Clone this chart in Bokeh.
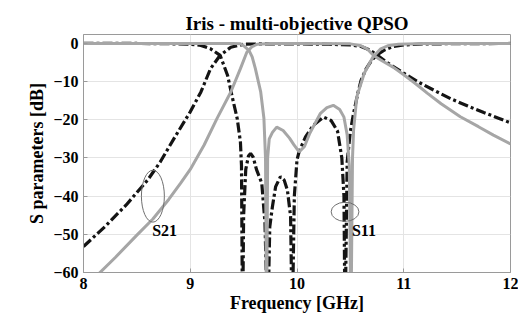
from bokeh.plotting import figure
from bokeh.models import Range1d, FixedTicker
from bokeh.core.properties import value
from bokeh.embed import file_html
from bokeh.resources import INLINE

# ---- data ----
# design A (black dash-dot)
a_s21_f = [8.00, 8.20, 8.40, 8.60, 8.72, 8.85, 9.00, 9.10, 9.19, 9.28, 9.38, 9.50, 9.70,
           10.00, 10.30, 10.50, 10.60, 10.68, 10.75, 10.86, 11.00, 11.15, 11.30, 11.45,
           11.60, 11.75, 11.90, 12.00]
a_s21_db = [-53.2, -48.0, -42.3, -35.8, -31.0, -24.8, -17.9, -12.7, -6.6, -3.1, -1.0, -0.2, -0.1,
            -0.1, -0.2, -0.4, -0.8, -1.7, -3.0, -5.3, -7.8, -10.3, -12.5, -14.6,
            -16.4, -18.1, -19.7, -20.8]

a_s11_f = [8.00, 8.50, 8.90, 9.00, 9.10, 9.19, 9.28, 9.35, 9.39, 9.44, 9.47, 9.48, 9.49,
           9.50, 9.52, 9.545, 9.565, 9.59, 9.62, 9.67, 9.70, 9.725,
           9.745, 9.77, 9.80, 9.845, 9.88, 9.91, 9.94, 9.955,
           9.975, 10.00, 10.02, 10.08, 10.15, 10.25, 10.32, 10.38, 10.42, 10.44, 10.45,
           10.47, 10.50, 10.53, 10.57, 10.60, 10.65, 10.70, 10.75, 10.82, 10.90, 11.00,
           11.20, 12.00]
a_s11_db = [0.0, 0.0, -0.1, -0.2, -0.5, -1.4, -3.1, -8.4, -13.6, -19.7, -25.8, -32.0, -75.0,
            -45.0, -33.0, -29.5, -28.8, -29.8, -33.0, -36.6, -47.0, -75.0,
            -48.0, -42.7, -37.5, -34.9, -35.8, -38.4, -45.3, -75.0,
            -40.0, -30.5, -28.3, -24.5, -21.5, -19.3, -20.2, -23.0, -30.0, -40.0, -75.0,
            -31.0, -23.0, -18.3, -13.0, -9.7, -6.5, -4.4, -3.0, -1.7, -0.8, -0.4,
            -0.1, 0.0]

# design B (grey solid)
b_s21_f = [8.10, 8.30, 8.50, 8.65, 8.80, 8.91, 9.00, 9.13, 9.25, 9.38, 9.47, 9.53, 9.58,
           9.63, 9.75, 10.00, 10.50, 10.60, 10.66, 10.72, 10.80, 10.90, 11.00, 11.10,
           11.22, 11.35, 11.53, 11.70, 11.84, 12.00]
b_s21_db = [-61.5, -56.0, -50.2, -46.0, -40.8, -36.6, -33.0, -26.6, -19.7, -12.7, -6.6, -2.3, -0.8,
            -0.2, 0.0, 0.0, -0.1, -0.6, -1.5, -3.2, -4.6, -6.2, -8.2, -10.3,
            -13.0, -15.8, -19.2, -21.8, -24.0, -26.3]

b_s11_f = [8.00, 9.00, 9.40, 9.47, 9.51, 9.55, 9.58, 9.61, 9.66, 9.69, 9.705, 9.715,
           9.725, 9.74, 9.77, 9.81, 9.87, 9.93, 9.97, 10.02, 10.07, 10.12, 10.22, 10.28,
           10.34, 10.40, 10.44, 10.47, 10.49, 10.505, 10.52, 10.53, 10.56, 10.63, 10.71,
           10.78, 10.85, 10.95, 11.20, 12.00]
b_s11_db = [0.0, 0.0, 0.0, -0.1, -0.8, -1.8, -3.5, -6.6, -12.7, -19.6, -30.0, -75.0,
            -30.0, -25.0, -23.3, -21.9, -22.8, -24.8, -26.5, -28.4, -27.0, -23.5, -18.3, -16.8,
            -16.2, -17.3, -19.3, -24.0, -32.0, -75.0, -30.0, -22.7, -14.0, -7.8, -3.6,
            -1.5, -0.6, -0.2, 0.0, 0.0]

x_ticks = [8, 9, 10, 11, 12]
y_ticks = [-60, -50, -40, -30, -20, -10, 0]

FONT = "Liberation Serif"
GREY = "#a6a6a6"
DARK = "#141414"
AXC = "#9a9a9a"

p = figure(width=518, height=315, output_backend="svg", toolbar_location=None,
           x_range=Range1d(8, 12), y_range=Range1d(-60, 2.35),
           min_border_left=83, min_border_right=8, min_border_top=34, min_border_bottom=42,
           title="Iris - multi-objective QPSO")
p.background_fill_color = "white"
p.border_fill_color = "white"
p.outline_line_color = AXC
p.outline_line_width = 1

p.title.align = "center"
p.title.text_font = FONT
p.title.text_font_style = "bold"
p.title.text_font_size = "19px"
p.title.text_color = "black"
p.title.standoff = 2

xax = p.below[0]
yax = p.left[0]
for ax in (xax, yax):
    ax.axis_line_color = AXC
    ax.major_tick_line_color = AXC
    ax.major_tick_in = 4
    ax.major_tick_out = 0
    ax.minor_tick_line_color = None
    ax.major_label_text_font = FONT
    ax.major_label_text_font_style = "bold"
    ax.major_label_text_font_size = "16px"
    ax.major_label_text_color = "black"
    ax.axis_label_text_font = FONT
    ax.axis_label_text_font_style = "bold"
    ax.axis_label_text_font_size = "18px"
    ax.axis_label_text_color = "black"

xax.ticker = FixedTicker(ticks=x_ticks)
yax.ticker = FixedTicker(ticks=y_ticks)
xax.axis_label = "Frequency [GHz]"
yax.axis_label = "S parameters [dB]"
xax.major_label_standoff = 5
xax.axis_label_standoff = 1
yax.major_label_standoff = 5
yax.axis_label_standoff = 3

p.xgrid.grid_line_color = "#e4e4e4"
p.ygrid.grid_line_color = "#e4e4e4"
p.xgrid.ticker = FixedTicker(ticks=x_ticks)
p.ygrid.ticker = FixedTicker(ticks=y_ticks)

# curves
p.line(a_s21_f, a_s21_db, line_color=DARK, line_width=3.2, line_dash="10 3 3 3")
p.line(a_s11_f, a_s11_db, line_color=DARK, line_width=3.2, line_dash="10 3 3 3")
p.line(b_s21_f, b_s21_db, line_color=GREY, line_width=3)
p.line(b_s11_f, b_s11_db, line_color=GREY, line_width=3)

# annotations
p.ellipse(x=[8.65, 10.45], y=[-40.0, -44.1], width=[0.215, 0.26], height=[13.6, 5.0],
          fill_color=None, line_color="#6f6f6f", line_width=1)
p.text(x=[8.643, 10.515], y=[-48.9, -48.9], text=["S21", "S11"],
       text_font=value(FONT), text_font_style="bold", text_font_size="16px",
       text_baseline="middle", text_align="left", text_color="black")

open("out.html", "w").write(file_html(p, INLINE))
